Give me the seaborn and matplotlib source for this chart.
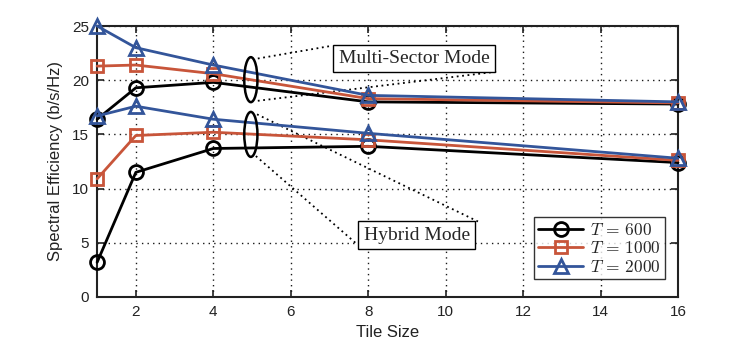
import numpy as np
import pandas as pd
import matplotlib
matplotlib.use("Agg")
import matplotlib.pyplot as plt
from matplotlib.patches import Ellipse
import seaborn as sns

sns.set_theme(style="white")
plt.rcParams['font.family'] = ['Liberation Sans', 'DejaVu Sans']
plt.rcParams['mathtext.fontset'] = 'cm'

tile_size = [1, 2, 4, 8, 16]
T_values = [600, 1000, 2000]
multi_600 = [16.4, 19.3, 19.8, 18.0, 17.8]
multi_1000 = [21.3, 21.4, 20.6, 18.3, 17.9]
multi_2000 = [25.0, 23.0, 21.4, 18.6, 18.0]
hybrid_600 = [3.2, 11.5, 13.7, 13.9, 12.4]
hybrid_1000 = [10.9, 14.9, 15.2, 14.5, 12.6]
hybrid_2000 = [16.7, 17.6, 16.4, 15.1, 12.8]
x_ticks = [2, 4, 6, 8, 10, 12, 14, 16]
y_ticks = [0, 5, 10, 15, 20, 25]

colors = {600: "#000000", 1000: "#C8553A", 2000: "#33559A"}
markers = {600: "o", 1000: "s", 2000: "^"}
msizes = {600: 10, 1000: 9, 2000: 10}

rows = []
for T, m, h in zip(T_values, [multi_600, multi_1000, multi_2000],
                   [hybrid_600, hybrid_1000, hybrid_2000]):
    for xs, v in zip(tile_size, m):
        rows.append(dict(tile=xs, se=v, T=T, mode="Multi-Sector"))
    for xs, v in zip(tile_size, h):
        rows.append(dict(tile=xs, se=v, T=T, mode="Hybrid"))
df = pd.DataFrame(rows)

fig = plt.figure(figsize=(7.47, 3.49), dpi=100)
ax = fig.add_axes([0.130, 0.149, 0.7776, 0.7765])

handles = {}
for T in T_values:
    for mode in ["Multi-Sector", "Hybrid"]:
        sub = df[(df["T"] == T) & (df["mode"] == mode)]
        sns.lineplot(data=sub, x="tile", y="se", ax=ax, color=colors[T],
                     marker=markers[T], markersize=msizes[T],
                     markerfacecolor="none", markeredgecolor=colors[T],
                     markeredgewidth=2, linewidth=2, legend=False, zorder=3,
                     clip_on=False)
    handles[T] = ax.lines[-1]

ax.set_xlim(1, 16)
ax.set_ylim(0, 25)
ax.set_xticks(x_ticks)
ax.set_yticks(y_ticks)
ax.grid(True, color="black", linestyle=(0, (1, 3)), linewidth=1.0, alpha=0.9)
for s in ax.spines.values():
    s.set_color("#222222")
    s.set_linewidth(1.5)
ax.tick_params(direction="in", length=5, width=1.2, top=True, right=True,
               bottom=True, left=True, labelsize=11, colors="#222222",
               pad=6)
ax.set_xlabel("Tile Size", fontsize=12, color="#222222", labelpad=4)
ax.set_ylabel("Spectral Efficiency (b/s/Hz)", fontsize=12, color="#222222",
              labelpad=6)

# ellipses
for cy in [20.05, 15.0]:
    ax.add_patch(Ellipse((4.97, cy), 0.34, 4.15, fill=False, edgecolor="black",
                         linewidth=1.8, zorder=4))

dot = dict(color="black", linestyle=(0, (1, 2)), linewidth=1.3, zorder=2)
ax.plot([5.15, 7.02], [22.0, 23.15], **dot)
ax.plot([5.15, 11.34], [18.1, 20.8], **dot)
ax.plot([5.13, 10.85], [16.85, 6.94], **dot)
ax.plot([5.1, 7.67], [13.0, 5.0], **dot)

bbox = dict(boxstyle="square,pad=0.28", facecolor="white", edgecolor="black",
            linewidth=1.0)
ax.text(9.18, 22.0, "Multi-Sector Mode", ha="center", va="center",
        fontsize=14, family="Liberation Serif", bbox=bbox, zorder=5)
ax.text(9.26, 5.69, "Hybrid Mode", ha="center", va="center",
        fontsize=14, family="Liberation Serif", bbox=bbox, zorder=5)

leg = ax.legend([handles[T] for T in T_values],
                [r"$T\,=\,%d$" % T for T in T_values],
                loc="lower right", bbox_to_anchor=(0.978, 0.065),
                fontsize=12.5, frameon=True, fancybox=False, edgecolor="black",
                handlelength=2.6, borderpad=0.25, labelspacing=0.15,
                handletextpad=0.4, borderaxespad=0)
leg.get_frame().set_linewidth(1.0)

fig.savefig("out.png", dpi=100)
